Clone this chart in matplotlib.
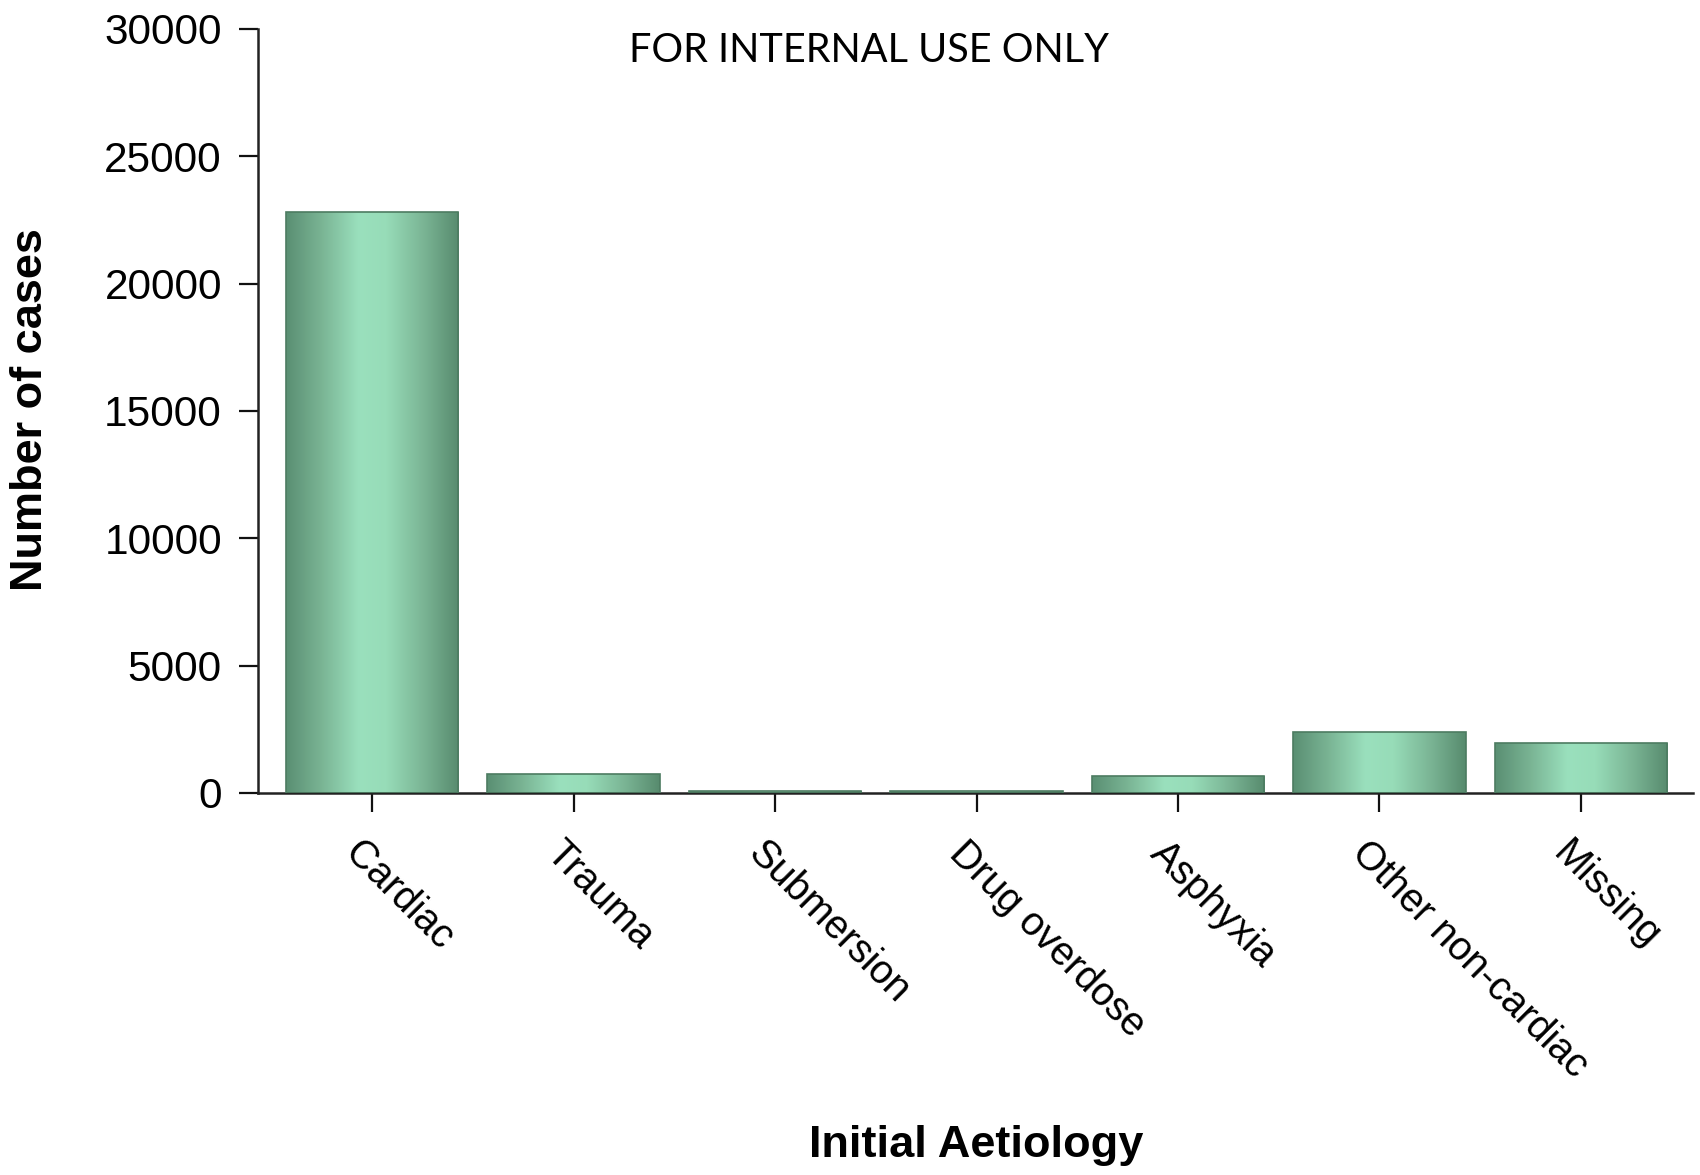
import numpy as np
import matplotlib
matplotlib.use("Agg")
import matplotlib.pyplot as plt
import matplotlib.transforms as mtransforms
from matplotlib.colors import LinearSegmentedColormap

categories = ["Cardiac", "Trauma", "Submersion", "Drug overdose", "Asphyxia",
              "Other non-cardiac", "Missing"]
cases = [22800, 750, 80, 80, 660, 2400, 1950]
yticks = [0, 5000, 10000, 15000, 20000, 25000, 30000]

plt.rcParams['font.family'] = ['Liberation Sans', 'DejaVu Sans']

fig = plt.figure(figsize=(17, 11.75), dpi=100)
ax = fig.add_axes([258/1700, 1-793/1175, (1693-258)/1700, (793-29)/1175])

cmap = LinearSegmentedColormap.from_list("g", [
    (0.0, "#5a8f73"), (0.2, "#79b393"), (0.42, "#9ae0bd"),
    (0.58, "#97dcb8"), (0.8, "#7ab494"), (1.0, "#578b6e")])
grad = np.linspace(0, 1, 256).reshape(1, -1)

x = np.arange(len(categories))
bars = ax.bar(x, cases, width=0.854, facecolor="none", edgecolor="#4d7c61",
              linewidth=1.2, zorder=3)
for b in bars:
    x0, w, h = b.get_x(), b.get_width(), b.get_height()
    im = ax.imshow(grad, cmap=cmap, extent=[x0, x0 + w, 0, h], aspect="auto",
                   zorder=2, interpolation="bilinear")
    im.set_clip_path(b)

ax.set_xlim(-0.566, 6.556)
ax.set_ylim(0, 30000)
ax.set_yticks(yticks)
ax.set_yticklabels([str(t) for t in yticks], fontsize=30.5)
ax.set_xticks(x)
ax.set_xticklabels(categories, rotation=-45, ha="left", va="top",
                   rotation_mode="anchor", fontsize=28.5)
ax.tick_params(axis="both", length=14, width=1.6, color="#111111")
ax.tick_params(axis="x", pad=14)
ax.tick_params(axis="y", pad=12)
offset = mtransforms.ScaledTranslation(-8/100, -2/100, fig.dpi_scale_trans)
for lab in ax.get_xticklabels():
    lab.set_transform(lab.get_transform() + offset)
for s in ["top", "right"]:
    ax.spines[s].set_visible(False)
for s in ["left", "bottom"]:
    ax.spines[s].set_linewidth(1.8)
    ax.spines[s].set_color("#222222")

fig.text(31/1700, 1-410/1175, "Number of cases", rotation=90, fontsize=32.5,
         fontweight="bold", ha="center", va="center")
fig.text(976/1700, 1-1146/1175, "Initial Aetiology", fontsize=32.5,
         fontweight="bold", ha="center", va="center")
fig.text(869/1700, 1-51/1175, "FOR INTERNAL USE ONLY", fontsize=28.5,
         family=["Lato", "DejaVu Sans"], ha="center", va="center")

fig.savefig("out.png", dpi=100, facecolor="white")
